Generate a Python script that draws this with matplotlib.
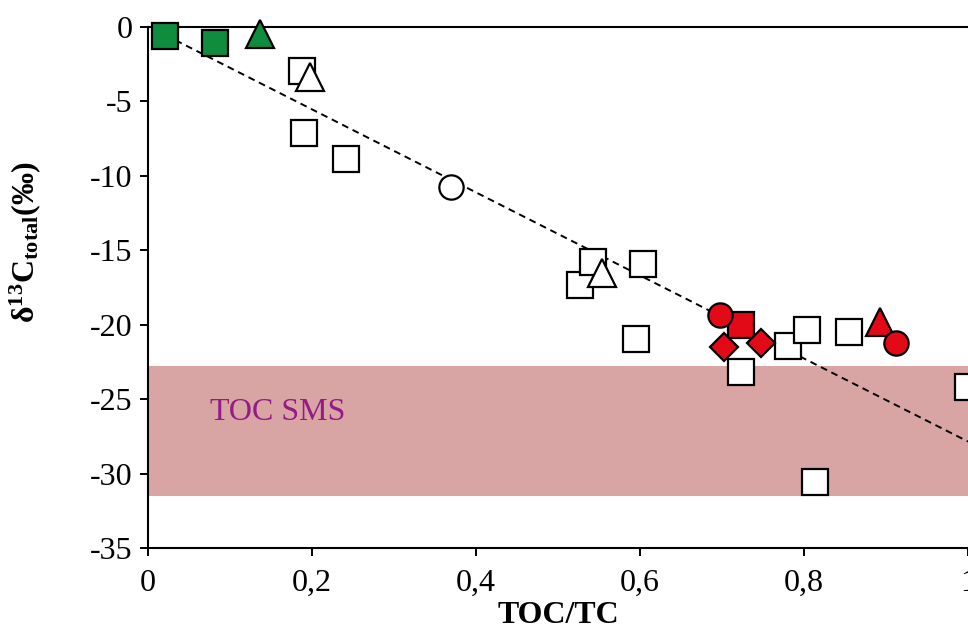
import matplotlib
matplotlib.use("Agg")
import matplotlib.pyplot as plt
import numpy as np

plt.rcParams["font.family"] = ["Liberation Serif", "DejaVu Serif"]
plt.rcParams["mathtext.fontset"] = "custom"
plt.rcParams["mathtext.rm"] = "Liberation Serif"
plt.rcParams["mathtext.bf"] = "Liberation Serif:bold"
plt.rcParams["axes.unicode_minus"] = False

# data (x = TOC/TC, y = d13C total)
white_sq_x = [0.188, 0.190, 0.242, 0.527, 0.543, 0.604, 0.595, 0.723, 0.781, 0.804, 0.855, 1.0, 0.813]
white_sq_y = [-2.93, -7.14, -8.89, -17.3, -15.77, -15.9, -20.96, -23.2, -21.4, -20.35, -20.5, -24.2, -30.6]
white_tri_x = [0.197, 0.554]
white_tri_y = [-3.34, -16.5]
white_circ_x = [0.370]
white_circ_y = [-10.73]

green_sq_x = [0.021, 0.082]
green_sq_y = [-0.58, -1.05]
green_tri_x = [0.137]
green_tri_y = [-0.50]

red_sq_x = [0.723]
red_sq_y = [-20.0]
red_tri_x = [0.893]
red_tri_y = [-19.8]
red_circ_x = [0.698, 0.912]
red_circ_y = [-19.35, -21.25]
red_dia_x = [0.702, 0.748]
red_dia_y = [-21.5, -21.2]

# linear trend and the TOC SMS range
trend_slope = -27.9
trend_intercept = 0.05
sms_low, sms_high = -31.5, -22.75

x_ticks = [0, 0.2, 0.4, 0.6, 0.8, 1.0]
x_tick_labels = ["0", "0,2", "0,4", "0,6", "0,8", "1"]
y_ticks = [-35, -30, -25, -20, -15, -10, -5, 0]

GREEN = "#108c3e"
RED = "#e20a17"

fig = plt.figure(figsize=(9.68, 6.29), dpi=100)
ax = fig.add_axes([0.1529, 0.1288, 0.8471, 0.8282])

ax.axhspan(sms_low, sms_high, color="#d9a4a4", lw=0, zorder=0)
ax.text(0.075, -25.9, "TOC SMS", color="#941a86", fontsize=23, va="center", ha="left")

all_x = white_sq_x + white_tri_x + white_circ_x + green_sq_x + green_tri_x + red_sq_x + red_tri_x + red_circ_x + red_dia_x
tx = np.linspace(min(all_x), max(all_x), 50)
ax.plot(tx, trend_slope * tx + trend_intercept, ls=(0, (3.5, 2.5)), color="black", lw=1.4, zorder=1)


def pts(x, y, marker, face, ms, z):
    ax.plot(x, y, ls="none", marker=marker, ms=ms, mfc=face, mec="black",
            mew=1.6, clip_on=False, zorder=z)


pts(white_sq_x, white_sq_y, "s", "white", 18.5, 3)
pts(white_tri_x, white_tri_y, "^", "white", 19.5, 4)
pts(white_circ_x, white_circ_y, "o", "white", 17.5, 4)
pts(green_sq_x, green_sq_y, "s", GREEN, 18.5, 5)
pts(green_tri_x, green_tri_y, "^", GREEN, 19.5, 5)
pts(red_sq_x, red_sq_y, "s", RED, 18.5, 5)
pts(red_tri_x, red_tri_y, "^", RED, 19.5, 5)
pts(red_circ_x, red_circ_y, "o", RED, 17.5, 6)
pts(red_dia_x, red_dia_y, "D", RED, 14.3, 7)

ax.set_xlim(0, 1)
ax.set_ylim(-35, 0)
ax.set_xticks(x_ticks)
ax.set_xticklabels(x_tick_labels)
ax.set_yticks(y_ticks)
ax.set_yticklabels([str(v) for v in y_ticks])
ax.tick_params(axis="both", labelsize=23, length=6, width=1.4, direction="out")
ax.tick_params(axis="x", pad=9)
ax.tick_params(axis="y", pad=5)

for s in ["left", "bottom", "top"]:
    ax.spines[s].set_linewidth(1.5)
ax.spines["right"].set_visible(False)

ax.set_xlabel("TOC/TC", fontsize=23, fontweight="bold")
ax.xaxis.set_label_coords(0.5, -0.157)
ax.xaxis.label.set_va("bottom")
ax.set_ylabel(r"$\mathbf{\delta^{13}C_{total}(‰)}$", fontsize=23)
ax.yaxis.set_label_coords(-0.128, 0.587)

fig.savefig("out.png", dpi=100)
